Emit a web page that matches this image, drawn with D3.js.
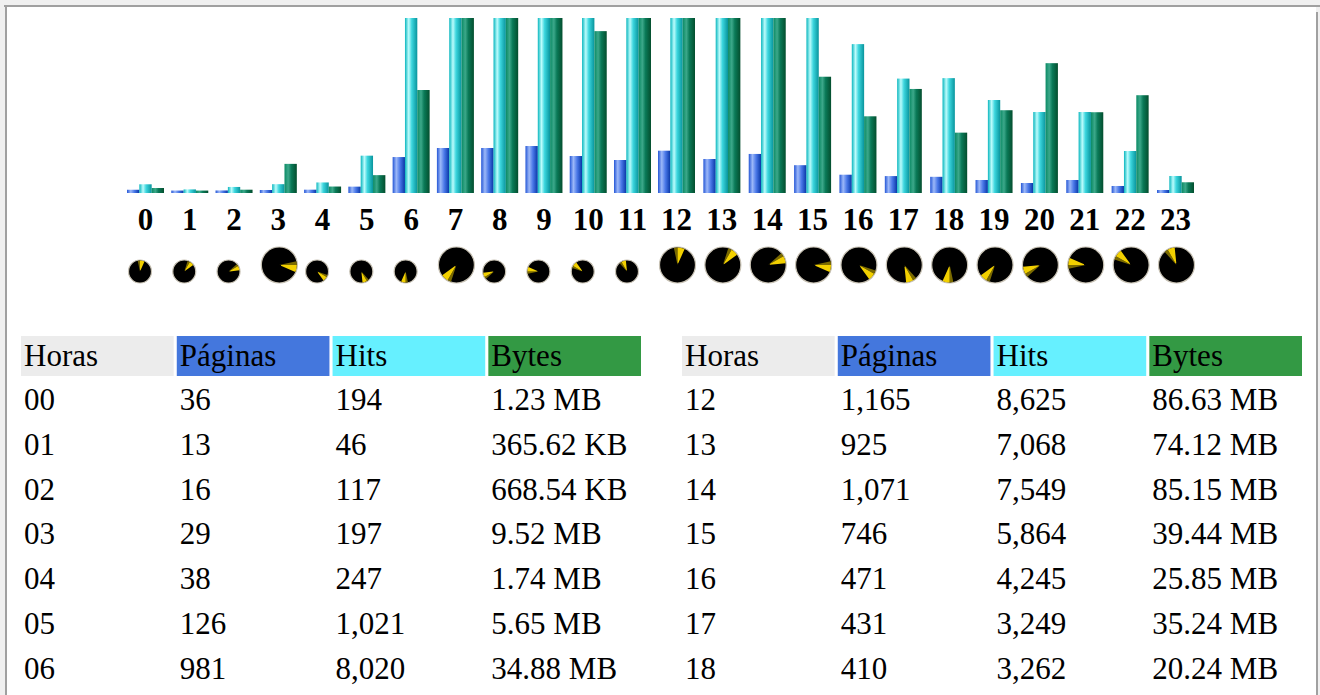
<!DOCTYPE html>
<html>
<head>
<meta charset="utf-8">
<script src="https://cdn.jsdelivr.net/npm/d3@7"></script>
<style>
  html, body { margin: 0; padding: 0; overflow: hidden; background: #f0f0f0; }
  svg { display: block; font-family: "Liberation Serif", "Times New Roman", serif; }
</style>
</head>
<body>
<div class="chart"></div>
<script>
// data
const hours = d3.range(24);
const pages = [36, 13, 16, 29, 38, 126, 981, 1243, 1243, 1300, 1011, 896, 1165, 925, 1071, 746, 471, 431, 410, 318, 231, 318, 145, 29];
const hits = [194, 46, 117, 197, 247, 1021, 8020, 9415, 9260, 9870, 8105, 7520, 8625, 7068, 7549, 5864, 4245, 3249, 3262, 2630, 2283, 2283, 1156, 434];
// bytes in MB
const bytes = [1.23, 0.35705, 0.65287, 9.52, 1.74, 5.65, 34.88, 88.40, 91.70, 97.30, 55.09, 79.50, 86.63, 74.12, 85.15, 39.44, 25.85, 35.24, 20.24, 27.94, 44.09, 27.25, 33.09, 3.20];
// clock icon: 1 = big one
const bigClock = [0, 0, 0, 1, 0, 0, 0, 1, 0, 0, 0, 0, 1, 1, 1, 1, 1, 1, 1, 1, 1, 1, 1, 1];
const columns = ['Horas', 'Páginas', 'Hits', 'Bytes'];
const headerColors = ['#ececec', '#4477dd', '#66f0ff', '#339944'];
// rows visible in the window
const leftRows = [0, 1, 2, 3, 4, 5, 6];
const rightRows = [12, 13, 14, 15, 16, 17, 18];

//utilities
const fmtInt = d3.format(',');
const fmtBytes = v => v < 1 ? (v * 1024).toFixed(2) + ' KB' : v.toFixed(2) + ' MB';
const pad2 = h => (h < 10 ? '0' : '') + h;

const width = 1320;
const height = 695;
const baseY = 193;
const topY = 18;

const svg = d3.select('.chart')
  .append('svg')
  .attr('width', width)
  .attr('height', height);

// page frame
svg.append('rect').attr('x', 7).attr('y', 7).attr('width', 1309).attr('height', height).attr('fill', '#fff');
svg.append('rect').attr('x', 4).attr('y', 5).attr('width', width - 4).attr('height', 2).attr('fill', '#a0a0a0');
svg.append('rect').attr('x', 5).attr('y', 5).attr('width', 2).attr('height', height).attr('fill', '#a0a0a0');
svg.append('rect').attr('x', 1316).attr('y', 12).attr('width', 2).attr('height', height).attr('fill', '#a0a0a0');

// gradients for the bars
const defs = svg.append('defs');
const gradients = {
  p: [['0', '#2456d6'], ['0.3', '#9cb8f8'], ['0.6', '#4a78e8'], ['1', '#0836a6']],
  h: [['0', '#08b6be'], ['0.3', '#bcfcfc'], ['0.55', '#3cd6de'], ['1', '#08949c']],
  k: [['0', '#0a8a64'], ['0.3', '#3ca88a'], ['0.55', '#0a7a58'], ['1', '#044e2e']]
};
Object.entries(gradients).forEach(([key, stops]) => {
  const g = defs.append('linearGradient').attr('id', 'grad-' + key)
    .attr('x1', '0%').attr('x2', '100%').attr('y1', '0%').attr('y2', '0%');
  stops.forEach(s => g.append('stop').attr('offset', s[0]).attr('stop-color', s[1]));
});

//Scales
const xGroup = d3.scaleLinear()
  .domain([0, 11, 12, 23])
  .range([127, 614, 658, 1157]);
const xSub = d3.scaleBand()
  .domain(['p', 'h', 'k'])
  .range([0, 37]);
const yHits = d3.scaleLinear()
  .domain([0, 5000])
  .range([baseY - 2, topY])
  .clamp(true);
const yBytes = d3.scaleLinear()
  .domain([0, 59.6])
  .range([baseY - 1.4, topY])
  .clamp(true);

const series = [
  { key: 'p', values: pages, y: yHits },
  { key: 'h', values: hits, y: yHits },
  { key: 'k', values: bytes, y: yBytes }
];

// draw bars
const groups = svg.append('g')
  .attr('class', 'bars')
  .selectAll('g')
  .data(hours)
  .join('g')
  .attr('transform', h => `translate(${xGroup(h)},0)`);

series.forEach(s => {
  groups.append('rect')
    .attr('x', xSub(s.key))
    .attr('width', xSub.bandwidth())
    .attr('y', h => s.y(s.values[h]))
    .attr('height', h => baseY - s.y(s.values[h]))
    .attr('fill', `url(#grad-${s.key})`);
});

// hour labels
groups.append('text')
  .attr('x', 18.5)
  .attr('y', 230)
  .attr('text-anchor', 'middle')
  .style('font-size', '31px')
  .style('font-weight', 'bold')
  .text(h => h);

// clock icons
const clockR = h => bigClock[h] ? 18 : 11.5;
const clocks = groups.append('g')
  .attr('transform', h => `translate(${1.5 + clockR(h)},${283 - clockR(h)})`);
clocks.append('circle')
  .attr('r', clockR)
  .attr('fill', '#000')
  .attr('stroke', '#c8c2b4')
  .attr('stroke-width', 1.2);
const rad = Math.PI / 180;
clocks.append('path')
  .attr('fill', '#7a6a00')
  .attr('d', h => d3.arc()({
    innerRadius: 0,
    outerRadius: clockR(h) - 0.5,
    startAngle: ((h % 12) * 30 - 12) * rad,
    endAngle: ((h % 12) * 30) * rad
  }));
clocks.append('path')
  .attr('fill', '#f2d000')
  .attr('d', h => d3.arc()({
    innerRadius: clockR(h) * 0.1,
    outerRadius: clockR(h) - 0.5,
    startAngle: ((h % 12) * 30) * rad,
    endAngle: ((h % 12) * 30 + 24) * rad
  }));

// tables
const drawTable = (x0, rowsHours) => {
  const xCol = d3.scaleBand()
    .domain(columns)
    .range([x0, x0 + 620])
    .paddingInner(0.02);
  const t = svg.append('g').attr('class', 'table');
  t.selectAll('rect.head')
    .data(columns)
    .join('rect')
    .attr('class', 'head')
    .attr('x', c => xCol(c))
    .attr('y', 336)
    .attr('width', xCol.bandwidth())
    .attr('height', 40)
    .attr('fill', (c, i) => headerColors[i]);
  t.selectAll('text.head')
    .data(columns)
    .join('text')
    .attr('class', 'head')
    .attr('x', c => xCol(c) + 3)
    .attr('y', 366)
    .style('font-size', '31px')
    .text(c => c);

  const rows = t.selectAll('g.row')
    .data(rowsHours)
    .join('g')
    .attr('class', 'row')
    .attr('transform', (h, i) => `translate(0,${410 + i * 44.75})`);
  const cells = h => [pad2(h), fmtInt(pages[h]), fmtInt(hits[h]), fmtBytes(bytes[h])];
  rows.selectAll('text')
    .data(h => cells(h))
    .join('text')
    .attr('x', (d, i) => xCol(columns[i]) + 3)
    .attr('y', 0)
    .style('font-size', '31px')
    .text(d => d);
};

drawTable(21, leftRows);
drawTable(682, rightRows);
</script>
</body>
</html>
